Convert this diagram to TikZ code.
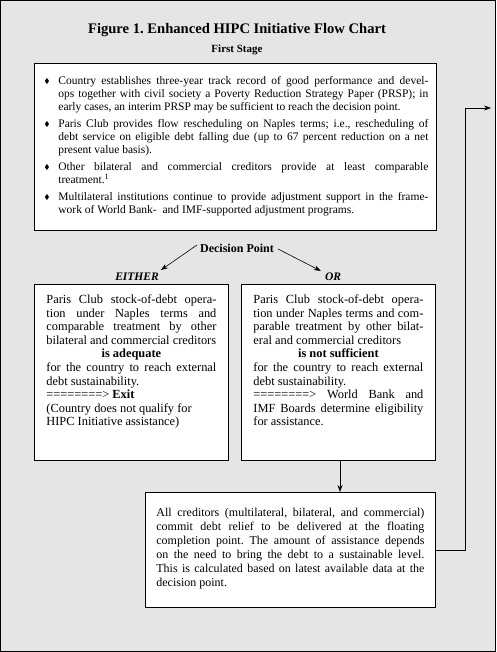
\documentclass[tikz,border=0pt]{standalone}
\usepackage{amssymb}
\usepackage{fontspec}
\setmainfont{Liberation Serif}
\usetikzlibrary{arrows.meta,calc}
\definecolor{bggray}{RGB}{229,229,229}
\frenchspacing
\newcommand\dmd{\raisebox{0.6pt}{\fontsize{7}{7}\selectfont$\blacklozenge$}}
\newcommand\hitem{\par\hangindent=14pt\hangafter=1\noindent\makebox[14pt][l]{\dmd}}
\tikzset{
  box/.style={draw, fill=white, line width=0.8pt, inner ysep=0pt, anchor=north west},
  arr/.style={-{Stealth[length=7pt,width=5pt]}, line width=0.6pt},
  lbl/.style={font=\bfseries\fontsize{12}{14}\selectfont, inner sep=1pt},
  lbli/.style={font=\bfseries\itshape\fontsize{11.5}{13}\selectfont, inner sep=1pt},
}
\begin{document}
\begin{tikzpicture}[x=1pt,y=-1pt]
\useasboundingbox (0,0) rectangle (496,652);
\fill[bggray] (0,0) rectangle (496,652);
\draw[line width=1.2pt] (0.6,0.6) rectangle (495.4,651.4);

\node[font=\bfseries\fontsize{14.6}{17}\selectfont, inner sep=0pt] (title) at (237,30) {Figure 1. Enhanced HIPC Initiative Flow Chart};
\node[lbl, font=\bfseries\fontsize{11}{13}\selectfont] (stage) at (237,50) {First Stage};

\node[box, inner xsep=0pt] (top) at (34,63) {\parbox[c][167pt][t]{402pt}{%
\fontsize{11.5}{13}\selectfont\leftskip=10pt\rightskip=8pt
\hitem\rule{0pt}{21pt}Country establishes three-year track record of good performance and devel-\linebreak ops together with civil society a Poverty Reduction Strategy Paper (PRSP); in\linebreak early cases, an interim PRSP may be sufficient to reach the decision point.
\par\vspace{4pt}
\hitem Paris Club provides flow rescheduling on Naples terms; i.e., rescheduling of\linebreak debt service on eligible debt falling due (up to 67 percent reduction on a net\linebreak present value basis).
\par\vspace{4pt}
\hitem Other bilateral and commercial creditors provide at least comparable\linebreak treatment.\textsuperscript{1}
\par\vspace{4pt}
\hitem Multilateral institutions continue to provide adjustment support in the frame-\linebreak work of World Bank-~ and IMF-supported adjustment programs.\par}};

\node[lbl] (dp) at (237,248) {Decision Point};
\node[lbli] (either) at (137,277) {EITHER};
\node[lbli] (or) at (333,277) {OR};

\node[box, inner xsep=12pt] (left) at (34,284) {\parbox[c][176pt][t]{170pt}{%
\fontsize{12.4}{13.6}\selectfont\noindent
\rule{0pt}{19pt}Paris Club stock-of-debt opera-\linebreak tion under Naples terms and\linebreak comparable treatment by other\linebreak bilateral and commercial creditors\par
{\centering\bfseries is adequate\par}
\noindent for the country to reach external\linebreak debt sustainability.\newline
========> \textbf{Exit}\newline
(Country does not qualify for\newline
HIPC Initiative assistance)\par}};

\node[box, inner xsep=12pt] (right) at (241,284) {\parbox[c][176pt][t]{170pt}{%
\fontsize{12.4}{13.6}\selectfont\noindent
\rule{0pt}{19pt}Paris Club stock-of-debt opera-\linebreak tion under Naples terms and com-\linebreak parable treatment by other bilat-\linebreak eral and commercial creditors\par
{\centering\bfseries is not sufficient\par}
\noindent for the country to reach external\linebreak debt sustainability.\newline
========> World Bank and\linebreak IMF Boards determine eligibility\linebreak for assistance.\par}};

\node[box, inner xsep=11pt] (bot) at (145,492) {\parbox[c][115pt][t]{268pt}{%
\fontsize{12}{14}\selectfont\noindent
\rule{0pt}{24pt}All creditors (multilateral, bilateral, and commercial)\linebreak commit debt relief to be delivered at the floating\linebreak completion point. The amount of assistance depends\linebreak on the need to bring the debt to a sustainable level.\linebreak This is calculated based on latest available data at the\linebreak decision point.\par}};

\coordinate (turn) at (465,108);
\coordinate (out) at (491,108);

\draw[arr] ($(dp.west)+(-2,-3)$) -- ($(either.north east)+(1,-2)$);
\draw[arr] ($(dp.east)+(3,1)$) -- ($(or.north west)+(-3,-1)$);
\draw[arr] (right.south -| 340,0) -- (bot.north -| 340,0);
\draw[arr] (bot.east) -| (turn) -- (out);
\end{tikzpicture}
\end{document}
